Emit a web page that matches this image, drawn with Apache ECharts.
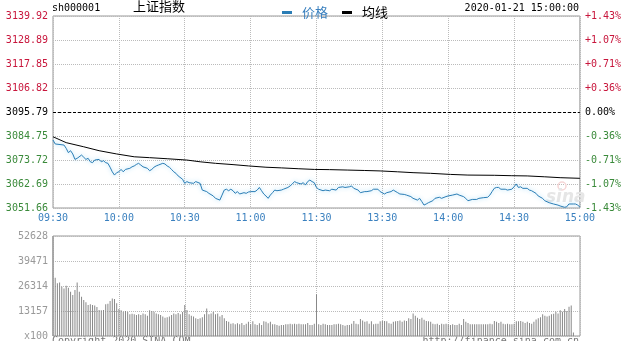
<!DOCTYPE html>
<html><head><meta charset="utf-8">
<script src="https://cdn.jsdelivr.net/npm/echarts@6/dist/echarts.min.js"></script>
<style>html,body{margin:0;padding:0;background:#fff}#c{width:624px;height:341px}</style>
</head><body><div id="c"></div>
<script>
// ---- data ----
const xTickLabels = ['09:30','10:00','10:30','11:00','11:30','13:30','14:00','14:30','15:00'];
const priceTickLabels = ['3051.66','3062.69','3073.72','3084.75','3095.79','3106.82','3117.85','3128.89','3139.92'];
const pctTickLabels = ['-1.43%','-1.07%','-0.71%','-0.36%','0.00%','+0.36%','+0.71%','+1.07%','+1.43%'];
const volTickLabels = ['x100','13157','26314','39471','52628'];
const prevClose = 3095.79;
const priceMin = 3051.66, priceMax = 3139.92;
const volMax = 52628;

// minute index (0 = 09:30, 120 = 11:30/13:00, 240 = 15:00)
const priceMinutes = [0,1,5,6,7,8,9,10,11,13,14,15,16,17,18,19,21,22,23,24,25,26,27,28,29,30,31,32,33,35,36,37,38,39,40,41,43,44,45,46,47,48,50,51,52,53,54,55,56,57,59,60,61,62,
64,65,67,68,70,71,73,74,76,77,78,79,80,81,82,83,84,85,87,88,89,90,92,93,94,95,96,97,98,99,100,101,102,104,105,107,108,109,110,111,113,114,115,116,117,118,119,120,121,
123,124,126,127,129,130,132,133,135,136,137,139,140,142,143,145,146,148,149,151,152,154,155,157,158,160,161,163,164,166,167,168,169,170,171,173,174,176,177,179,180,182,
184,185,187,188,189,191,193,194,196,198,199,200,201,202,203,204,206,207,209,210,211,212,213,214,216,217,218,220,221,223,224,226,228,230,231,233,234,235,237,238,239,240];
const priceValues = [3082.9,3081.1,3080.6,3079.1,3077.1,3078.0,3076.5,3074.0,3074.5,3076.0,3075.0,3074.0,3074.5,3072.9,3072.5,3073.7,3074.0,3072.9,3073.4,3072.5,3072.2,3070.4,3068.3,3066.8,3067.9,3068.3,3069.4,3068.3,3069.4,3069.9,3070.6,3071.0,3071.7,3072.2,3071.4,3070.6,3069.9,3068.8,3069.4,3070.4,3071.0,3071.4,3072.2,3071.9,3071.0,3070.4,3069.4,3068.3,3067.6,3066.4,3064.9,3063.0,3063.8,3063.3,
3063.0,3063.8,3063.0,3059.9,3059.2,3058.4,3057.2,3056.1,3055.3,3057.6,3059.9,3060.3,3059.6,3060.3,3059.6,3058.4,3059.2,3058.1,3058.7,3058.4,3059.0,3059.2,3059.2,3059.9,3061.1,3059.6,3058.1,3057.2,3056.1,3057.6,3058.7,3059.9,3059.6,3059.9,3060.3,3061.1,3061.8,3062.7,3063.8,3063.3,3062.7,3063.3,3062.2,3063.8,3064.5,3063.8,3063.3,3061.1,3060.3,
3059.6,3059.9,3059.6,3060.3,3059.9,3061.1,3061.4,3061.1,3061.4,3061.8,3060.7,3059.9,3058.7,3059.2,3059.2,3059.6,3060.3,3060.3,3059.2,3058.1,3058.7,3059.2,3059.9,3058.7,3058.1,3057.9,3057.6,3056.9,3056.1,3055.3,3056.1,3054.6,3053.0,3053.5,3054.1,3055.0,3056.1,3056.6,3056.1,3056.9,3057.2,3057.6,
3058.1,3057.6,3056.9,3056.1,3055.0,3055.6,3055.6,3056.1,3056.4,3056.6,3057.6,3059.2,3060.7,3061.1,3061.1,3060.3,3060.3,3059.9,3060.3,3061.4,3062.7,3061.1,3061.4,3060.7,3060.7,3059.9,3059.6,3058.4,3057.2,3056.1,3055.0,3054.1,3053.5,3053.0,3052.6,3052.0,3052.2,3053.5,3053.5,3053.5,3053.0,3052.1];

const avgMinutes = [0,6,14,21,29,37,44,52,61,67,74,82,89,97,104,112,119,126,134,142,149,157,164,172,181,189,201,209,216,224,231,240];
const avgValues = [3084.4,3081.7,3079.8,3078.0,3076.5,3075.2,3074.8,3074.3,3073.7,3072.9,3072.2,3071.6,3071.0,3070.4,3070.1,3069.7,3069.4,3069.3,3069.1,3068.9,3068.7,3068.3,3067.9,3067.6,3067.1,3066.8,3066.7,3066.5,3066.4,3066.0,3065.6,3065.3];

// volume per minute (x100), index = minute
const volumeValues = [52628,
30700,27700,28200,25900,25000,26500,25400,23300,21600,24200,
28200,23300,20700,18900,17700,16300,16700,16300,16000,
15300,13700,13500,13700,16700,17000,18400,19800,19500,17200,
14200,13500,12800,13200,12600,11400,11700,11400,11000,11400,
11000,11900,11400,10700,13500,13200,12800,11900,11400,11000,
10200,9600,9900,10300,11000,11900,11400,12100,11400,12600,
16300,13700,11400,10700,10200,9300,9000,9300,9900,11400,
14500,11400,11900,12600,11400,11900,10200,11000,9300,7900,
7500,6500,6700,6200,6700,6200,6800,5800,6500,7500,
6200,7700,6200,5800,6700,5800,7700,7500,
6700,7500,6200,6200,5800,5400,5800,5800,6200,6200,
6500,6200,6500,6200,6500,6200,6200,6200,
6800,5800,5800,6500,
22000,
6200,5800,6500,6200,5800,5800,5800,6200,6200,6500,
6200,5800,5400,5800,5800,6500,7900,6500,6200,8900,
8200,7500,7700,6500,7700,6200,6500,6500,7700,7900,
7900,7700,6700,6500,7500,7700,7900,8200,7500,8200,
7900,9300,9000,11900,10700,9600,9000,9600,8500,7900,
7700,7500,6500,6200,6500,5800,6500,6200,6500,6200,
5800,6200,5800,5800,6500,5800,9000,7500,6800,6200,
6200,6200,6200,6200,6200,6200,6200,6200,6500,6200,7900,7500,
6800,7500,6500,6200,6500,6200,6200,6500,7700,7700,
7900,7500,6800,7500,6800,6500,7500,8700,9300,9900,
11400,10700,10300,10700,11400,11700,12800,11900,13500,12800,
14200,13200,15400,16000,
1900,0,0,0];

// ---- chart ----
const RED = '#c8163c', GREEN = '#3a8a3a', BLUE = '#3a80bf';
const mono = 'DejaVu Sans Mono';
const yInterval = (priceMax - priceMin) / 8;
const idxOf = v => Math.round((v - priceMin) / yInterval);
const colorOf = v => { const i = idxOf(v); return i < 4 ? GREEN : (i === 4 ? '#000' : RED); };
const gridLine = {show: true, lineStyle: {color: '#bbb', type: 'dotted', width: 1}};

const chart = echarts.init(document.getElementById('c'), null, {renderer: 'canvas'});
chart.setOption({
  animation: false,
  backgroundColor: '#fff',
  legend: {
    left: 277, top: 1, itemWidth: 10, itemHeight: 3, itemGap: 14, icon: 'rect',
    selectedMode: false,
    textStyle: {fontFamily: 'Noto Sans CJK SC', fontSize: 13, padding: [0, 0, 0, 5]},
    data: [
      {name: '价格', textStyle: {color: BLUE}},
      {name: '均线', textStyle: {color: '#000'}}
    ]
  },
  grid: [
    {left: 53, top: 16, width: 527, height: 192, show: true, borderColor: '#999', borderWidth: 1},
    {left: 53, top: 236, width: 527, height: 100, show: true, borderColor: '#999', borderWidth: 1}
  ],
  xAxis: [
    {type: 'value', gridIndex: 0, min: 0, max: 240, interval: 30,
     axisLine: {show: false}, axisTick: {show: false}, splitLine: gridLine,
     axisLabel: {formatter: v => xTickLabels[Math.round(v / 30)], color: BLUE, fontFamily: mono, fontSize: 10, margin: 5}},
    {type: 'value', gridIndex: 1, min: 0, max: 240, interval: 30,
     axisLine: {show: false}, axisTick: {show: false}, splitLine: gridLine, axisLabel: {show: false}}
  ],
  yAxis: [
    {type: 'value', gridIndex: 0, min: priceMin, max: priceMax, interval: yInterval, position: 'left',
     axisLine: {show: false}, axisTick: {show: false}, splitLine: gridLine,
     axisLabel: {formatter: v => priceTickLabels[idxOf(v)], color: v => colorOf(v), fontFamily: mono, fontSize: 10, margin: 5}},
    {type: 'value', gridIndex: 0, min: priceMin, max: priceMax, interval: yInterval, position: 'right',
     axisLine: {show: false}, axisTick: {show: false}, splitLine: {show: false},
     axisLabel: {formatter: v => pctTickLabels[idxOf(v)], color: v => colorOf(v), fontFamily: mono, fontSize: 10, margin: 5}},
    {type: 'value', gridIndex: 1, min: 0, max: volMax, interval: volMax / 4, position: 'left',
     axisLine: {show: false}, axisTick: {show: false}, splitLine: gridLine,
     axisLabel: {formatter: v => volTickLabels[Math.round(v / (volMax / 4))], color: '#999', fontFamily: mono, fontSize: 10, margin: 5}}
  ],
  series: [
    {name: '价格', type: 'line', xAxisIndex: 0, yAxisIndex: 0, showSymbol: false, z: 3,
     color: '#2a7db5',
     lineStyle: {color: '#2a7db5', width: 1, shadowColor: 'rgba(130,205,245,0.9)', shadowBlur: 4},
     data: priceMinutes.map((m, i) => [m, priceValues[i]]),
     markLine: {silent: true, symbol: 'none', label: {show: false},
       lineStyle: {color: '#000', type: [3, 2], width: 1},
       data: [{yAxis: prevClose}]}},
    {name: '均线', type: 'line', xAxisIndex: 0, yAxisIndex: 0, showSymbol: false, z: 2,
     color: '#000', lineStyle: {color: '#000', width: 1},
     data: avgMinutes.map((m, i) => [m, avgValues[i]])},
    {name: '成交量', type: 'bar', xAxisIndex: 1, yAxisIndex: 2, barWidth: 1,
     itemStyle: {color: '#888'},
     data: volumeValues.map((v, i) => [i, v])}
  ],
  graphic: [
    {type: 'text', left: 52, top: 3, style: {text: 'sh000001', font: '10px "DejaVu Sans Mono"', fill: '#000'}},
    {type: 'text', left: 133, top: 0, style: {text: '上证指数', font: '13px "Noto Sans CJK SC"', fill: '#000'}},
    {type: 'text', right: 45, top: 3, style: {text: '2020-01-21 15:00:00', font: '10px "DejaVu Sans Mono"', fill: '#000'}},
    {type: 'text', left: 52, top: 336, style: {text: 'Copyright 2020 SINA.COM', font: '10px "DejaVu Sans Mono"', fill: '#777'}},
    {type: 'text', right: 45, top: 336, style: {text: 'http://finance.sina.com.cn', font: '10px "DejaVu Sans Mono"', fill: '#777'}},
    {type: 'circle', shape: {cx: 562, cy: 186, r: 4}, style: {fill: 'none', stroke: '#f6d6d6', lineWidth: 1.5}, z: 1},
    {type: 'text', left: 546, top: 189, z: 1, style: {text: 'sina', font: 'italic bold 17px "DejaVu Sans"', fill: '#e6e6e6'}}
  ]
});
</script></body></html>
